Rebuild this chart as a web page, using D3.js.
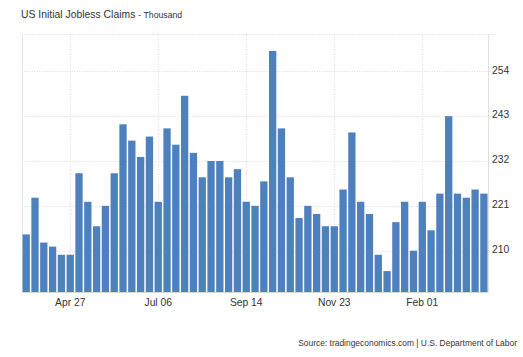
<!DOCTYPE html>
<html>
<head>
<meta charset="utf-8">
<script src="https://cdn.jsdelivr.net/npm/d3@7"></script>
<style>
  html, body { margin: 0; padding: 0; background: #fff; }
  svg { display: block; font-family: "Liberation Sans", Arial, sans-serif; }
</style>
</head>
<body>
<svg id="chart" width="523" height="357"></svg>
<script>
const weeks = ["Mar 23","Mar 30","Apr 06","Apr 13","Apr 20","Apr 27","May 04","May 11","May 18","May 25",
  "Jun 01","Jun 08","Jun 15","Jun 22","Jun 29","Jul 06","Jul 13","Jul 20","Jul 27","Aug 03",
  "Aug 10","Aug 17","Aug 24","Aug 31","Sep 07","Sep 14","Sep 21","Sep 28","Oct 05","Oct 12",
  "Oct 19","Oct 26","Nov 02","Nov 09","Nov 16","Nov 23","Nov 30","Dec 07","Dec 14","Dec 21",
  "Dec 28","Jan 04","Jan 11","Jan 18","Jan 25","Feb 01","Feb 08","Feb 15","Feb 22","Feb 29",
  "Mar 07","Mar 14","Mar 21"];
const claims = [214,223,212,211,209,209,229,222,216,221,
  229,241,237,233,238,222,240,236,248,234,
  228,232,232,228,230,222,221,227,259,240,
  228,218,221,219,216,216,225,239,222,219,
  209,205,217,222,210,222,215,224,243,224,
  223,225,224];
const xTickLabels = ["Apr 27","Jul 06","Sep 14","Nov 23","Feb 01"];
const yTickValues = [210,221,232,243,254];
const yDomain = [199.87, 263.15];

const svg = d3.select("#chart");
const L = 21.8, R = 488.3, T = 34, B = 292;

const x = d3.scaleBand().domain(weeks).range([L, R]).paddingInner(0.17).paddingOuter(0.085);
const y = d3.scaleLinear().domain(yDomain).range([B, T]);

const gridColor = "#dcdcdc";

// horizontal grid (dotted), including top edge
const hLines = yTickValues.map(v => y(v)).concat([T]);
svg.append("g").selectAll("line").data(hLines).join("line")
  .attr("x1", L).attr("x2", 497)
  .attr("y1", d => Math.round(d) + 0.5).attr("y2", d => Math.round(d) + 0.5)
  .attr("stroke", gridColor).attr("stroke-width", 1).attr("stroke-dasharray", "1,1.5");

// vertical grid at ticks
svg.append("g").selectAll("line").data(xTickLabels).join("line")
  .attr("x1", d => Math.round(x(d) + x.bandwidth() / 2) + 0.5)
  .attr("x2", d => Math.round(x(d) + x.bandwidth() / 2) + 0.5)
  .attr("y1", T).attr("y2", B)
  .attr("stroke", gridColor).attr("stroke-dasharray", "1,1.5");

// left and right borders
svg.append("line").attr("x1", Math.round(L) + 0.5).attr("x2", Math.round(L) + 0.5)
  .attr("y1", T).attr("y2", B).attr("stroke", "#e4e4e4");
svg.append("line").attr("x1", Math.round(R) + 0.5).attr("x2", Math.round(R) + 0.5)
  .attr("y1", T).attr("y2", B).attr("stroke", "#e0e0e0");

// bars
svg.append("g").selectAll("rect").data(claims).join("rect")
  .attr("x", (d, i) => x(weeks[i]))
  .attr("width", x.bandwidth())
  .attr("y", d => y(d))
  .attr("height", d => B - y(d))
  .attr("fill", "#4e80bd");

// bottom axis line
svg.append("line").attr("x1", L).attr("x2", R)
  .attr("y1", B + 0.5).attr("y2", B + 0.5).attr("stroke", "#d6d6d6");

// x axis labels
const xAxis = d3.axisBottom(x).tickValues(xTickLabels).tickSize(0).tickPadding(0);
const gx = svg.append("g").attr("transform", `translate(0,${B})`).call(xAxis);
gx.select(".domain").remove();
gx.selectAll("text").attr("dy", null).attr("y", 14)
  .attr("font-size", "10.3px").attr("fill", "#333").attr("font-family", "Liberation Sans, Arial, sans-serif");

// y axis labels (right)
const yAxis = d3.axisRight(y).tickValues(yTickValues).tickSize(0).tickPadding(0);
const gy = svg.append("g").attr("transform", `translate(492,0)`).call(yAxis);
gy.select(".domain").remove();
gy.selectAll("text").attr("dy", "0.32em").attr("y", -1.5)
  .attr("font-size", "10.3px").attr("fill", "#333").attr("font-family", "Liberation Sans, Arial, sans-serif");

// title
const title = svg.append("text").attr("x", 21).attr("y", 17.5)
  .attr("font-size", "10.4px").attr("fill", "#333");
title.append("tspan").text("US Initial Jobless Claims");
title.append("tspan").attr("font-size", "8.7px").attr("dx", 3).text("- Thousand");

// source
svg.append("text").attr("x", 517).attr("y", 346).attr("text-anchor", "end")
  .attr("font-size", "8.45px").attr("fill", "#333")
  .text("Source: tradingeconomics.com | U.S. Department of Labor");
</script>
</body>
</html>
